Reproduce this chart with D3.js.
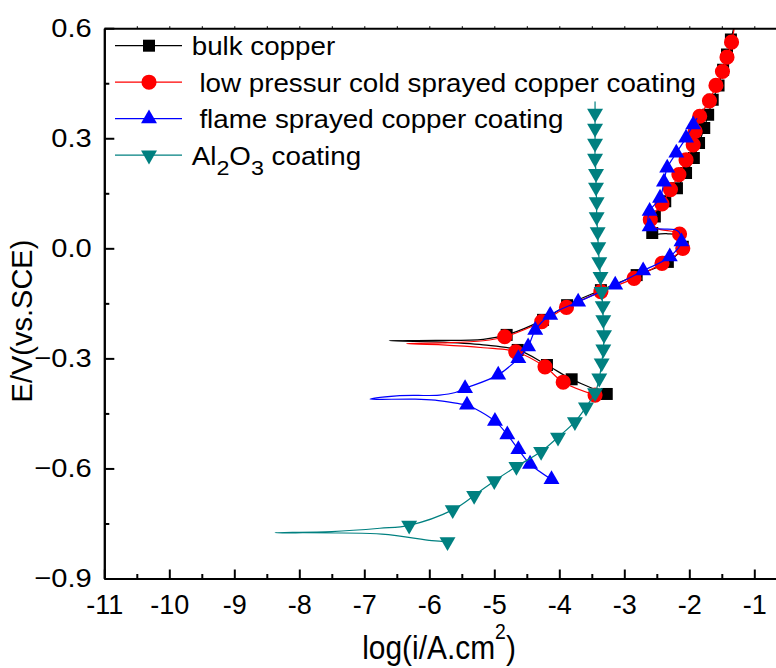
<!DOCTYPE html>
<html>
<head>
<meta charset="utf-8">
<script src="https://cdn.jsdelivr.net/npm/d3@7"></script>
<style>
  body { margin: 0; background: #fff; }
  svg { display: block; font-family: "Liberation Sans", Arial, sans-serif; }
</style>
</head>
<body>
<svg width="776" height="668"></svg>
<script>

// tick values
var xTicks = [-11, -10, -9, -8, -7, -6, -5, -4, -3, -2, -1];
var yTicks = [0.6, 0.3, 0.0, -0.3, -0.6, -0.9];

// bulk copper : [log i, E]
var bulkCurve = [[-3.27,-0.397],[-3.81,-0.357],[-4.19,-0.318],[-4.64,-0.277],[-5.17,-0.263],[-5.9,-0.255],
  [-6.62,-0.252],[-5.9,-0.251],[-5.17,-0.248],[-4.81,-0.236],[-4.25,-0.195],[-3.88,-0.155],[-3.36,-0.114],
  [-2.81,-0.073],[-2.33,-0.037],[-2.10,0.004],[-2.17,0.034],[-2.35,0.040],[-2.57,0.042],[-2.53,0.087],
  [-2.37,0.128],[-2.19,0.164],[-2.05,0.205],[-1.93,0.246],[-1.85,0.287],[-1.77,0.328],[-1.71,0.364],
  [-1.64,0.405],[-1.55,0.444],[-1.48,0.487],[-1.42,0.528],[-1.36,0.569],[-1.29,0.62]];
var bulkMarks = [[-3.27,-0.397],[-3.81,-0.357],[-4.19,-0.318],[-4.64,-0.277],[-4.81,-0.236],[-4.25,-0.195],
  [-3.88,-0.155],[-3.36,-0.114],[-2.81,-0.073],[-2.33,-0.037],[-2.10,0.004],[-2.57,0.042],[-2.53,0.087],
  [-2.37,0.128],[-2.19,0.164],[-2.05,0.205],[-1.93,0.246],[-1.85,0.287],[-1.77,0.328],[-1.71,0.364],
  [-1.64,0.405],[-1.55,0.444],[-1.48,0.487],[-1.42,0.528],[-1.36,0.569]];

// low pressure cold sprayed
var coldCurve = [[-3.45,-0.400],[-3.94,-0.365],[-4.22,-0.323],[-4.67,-0.282],[-5.17,-0.271],[-5.8,-0.263],
  [-6.35,-0.260],[-5.8,-0.258],[-5.17,-0.252],[-4.84,-0.241],[-4.27,-0.200],[-3.89,-0.161],[-3.36,-0.118],
  [-2.85,-0.082],[-2.42,-0.041],[-2.10,0.000],[-2.15,0.039],[-2.50,0.055],[-2.60,0.078],[-2.42,0.121],
  [-2.29,0.160],[-2.16,0.201],[-2.05,0.241],[-1.94,0.282],[-1.91,0.319],[-1.84,0.360],[-1.69,0.402],
  [-1.59,0.444],[-1.49,0.482],[-1.42,0.521],[-1.35,0.562],[-1.29,0.62]];
var coldMarks = [[-3.45,-0.400],[-3.94,-0.365],[-4.22,-0.323],[-4.67,-0.282],[-4.84,-0.241],[-4.27,-0.200],
  [-3.89,-0.161],[-3.36,-0.118],[-2.85,-0.082],[-2.42,-0.041],[-2.10,0.000],[-2.15,0.039],[-2.60,0.078],
  [-2.42,0.121],[-2.29,0.160],[-2.16,0.201],[-2.05,0.241],[-1.94,0.282],[-1.91,0.319],[-1.84,0.360],
  [-1.69,0.402],[-1.59,0.444],[-1.49,0.482],[-1.42,0.521],[-1.35,0.562]];

// flame sprayed
var flameCurve = [[-4.12,-0.630],[-4.45,-0.588],[-4.63,-0.548],[-4.80,-0.508],[-4.99,-0.471],[-5.42,-0.427],
  [-5.53,-0.424],[-5.91,-0.414],[-6.22,-0.411],[-6.91,-0.411],[-6.50,-0.402],[-5.84,-0.400],[-5.60,-0.393],
  [-5.45,-0.382],[-4.94,-0.345],[-4.63,-0.300],[-4.48,-0.268],[-4.37,-0.223],[-4.14,-0.182],[-3.71,-0.146],
  [-3.14,-0.100],[-2.71,-0.061],[-2.30,-0.023],[-2.12,0.018],[-2.16,0.045],[-2.22,0.051],[-2.61,0.059],
  [-2.61,0.101],[-2.45,0.137],[-2.39,0.181],[-2.34,0.219],[-2.20,0.260],[-2.05,0.301],[-1.94,0.337],[-1.88,0.355]];
var flameMarks = [[-4.12,-0.630],[-4.45,-0.588],[-4.63,-0.548],[-4.80,-0.508],[-4.99,-0.471],[-5.42,-0.427],
  [-5.45,-0.382],[-4.94,-0.345],[-4.63,-0.300],[-4.48,-0.268],[-4.37,-0.223],[-4.14,-0.182],[-3.71,-0.146],
  [-3.14,-0.100],[-2.71,-0.061],[-2.30,-0.023],[-2.12,0.018],[-2.61,0.059],[-2.61,0.101],[-2.45,0.137],
  [-2.39,0.181],[-2.34,0.219],[-2.20,0.260],[-2.05,0.301],[-1.94,0.337]];

// Al2O3
var aluCurve = [[-5.72,-0.800],[-5.96,-0.797],[-6.73,-0.779],[-8.37,-0.775],[-7.50,-0.772],[-6.76,-0.763],
  [-6.31,-0.755],[-5.64,-0.713],[-5.31,-0.674],[-5.00,-0.634],[-4.66,-0.595],[-4.28,-0.554],[-4.02,-0.515],
  [-3.76,-0.473],[-3.59,-0.433],[-3.45,-0.394],[-3.385,-0.354],[-3.348,-0.313],[-3.323,-0.275],[-3.312,-0.236],
  [-3.323,-0.195],[-3.332,-0.157],[-3.348,-0.118],[-3.366,-0.077],[-3.385,-0.037],[-3.40,0.004],[-3.41,0.045],
  [-3.425,0.086],[-3.425,0.127],[-3.435,0.166],[-3.435,0.204],[-3.45,0.245],[-3.45,0.286],[-3.45,0.327],
  [-3.45,0.368],[-3.45,0.400]];
var aluMarks = [[-5.72,-0.800],[-6.31,-0.755],[-5.64,-0.713],[-5.31,-0.674],[-5.00,-0.634],[-4.66,-0.595],
  [-4.28,-0.554],[-4.02,-0.515],[-3.76,-0.473],[-3.59,-0.433],[-3.45,-0.394],[-3.385,-0.354],[-3.348,-0.313],
  [-3.323,-0.275],[-3.312,-0.236],[-3.323,-0.195],[-3.332,-0.157],[-3.348,-0.118],[-3.366,-0.077],
  [-3.385,-0.037],[-3.40,0.004],[-3.41,0.045],[-3.425,0.086],[-3.425,0.127],[-3.435,0.166],[-3.435,0.204],
  [-3.45,0.245],[-3.45,0.286],[-3.45,0.327],[-3.45,0.368]];

var series = [
  {name: "bulk copper", curve: bulkCurve, marks: bulkMarks, color: "#000000", symbol: d3.symbolSquare, size: 144, rot: 0},
  {name: " low pressur cold sprayed copper coating", curve: coldCurve, marks: coldMarks, color: "#ff0000", symbol: d3.symbolCircle, size: 180, rot: 0},
  {name: " flame sprayed copper coating", curve: flameCurve, marks: flameMarks, color: "#0000ff", symbol: d3.symbolTriangle, size: 110, rot: 0},
  {name: "Al2O3 coating", curve: aluCurve, marks: aluMarks, color: "#008080", symbol: d3.symbolTriangle, size: 110, rot: 180}
];

var svg = d3.select("svg");

var x = d3.scaleLinear().domain([-11, 0]).range([104.3, 819.3]);
var y = d3.scaleLinear().domain([-0.9, 0.6]).range([578.5, 28.2]);

svg.append("clipPath").attr("id", "plot")
  .append("rect").attr("x", 104.3).attr("y", 28.2).attr("width", 720).attr("height", 550.3);

// curves and markers
var line = d3.line()
  .x(function(d) { return x(d[0]); })
  .y(function(d) { return y(d[1]); })
  .curve(d3.curveCatmullRom.alpha(0.5));

var plot = svg.append("g").attr("clip-path", "url(#plot)");

series.forEach(function(s) {
  plot.append("path")
    .attr("d", line(s.curve))
    .attr("fill", "none")
    .attr("stroke", s.color)
    .attr("stroke-width", 1.2);

  plot.append("g").selectAll("path")
    .data(s.marks)
    .enter().append("path")
    .attr("d", d3.symbol().type(s.symbol).size(s.size))
    .attr("transform", function(d) { return "translate(" + x(d[0]) + "," + y(d[1]) + ") rotate(" + s.rot + ")"; })
    .attr("fill", s.color);
});

// axes
function styleAxis(g) {
  g.select(".domain").attr("stroke-width", 2);
  g.selectAll(".tick line").attr("stroke-width", 2);
  g.selectAll("text").attr("fill", "#000");
}

var xAxis = svg.append("g")
  .attr("transform", "translate(0," + y(-0.9) + ")")
  .call(d3.axisBottom(x).tickValues(xTicks).tickSize(-9).tickSizeOuter(0).tickPadding(16)
    .tickFormat(d3.format("d")))
  .call(styleAxis);
xAxis.selectAll("text").attr("font-size", 27).attr("font-family", "Liberation Sans, Arial, sans-serif")
  .text(function(d) { return String(d); });

svg.append("g")
  .attr("transform", "translate(0," + y(-0.9) + ")")
  .call(d3.axisBottom(x).tickValues(d3.range(-10.5, 0, 1)).tickSize(-4.5).tickSizeOuter(0).tickFormat(""))
  .call(styleAxis);

svg.append("g")
  .attr("transform", "translate(0," + y(0.6) + ")")
  .call(d3.axisTop(x).tickValues(d3.range(-10.5, 0, 0.5)).tickSize(2).tickSizeOuter(0).tickFormat(""))
  .call(styleAxis)
  .selectAll(".tick line").attr("stroke-width", 1);

var yAxis = svg.append("g")
  .attr("transform", "translate(" + x(-11) + ",0)")
  .call(d3.axisLeft(y).tickValues(yTicks).tickSize(-10).tickSizeOuter(0).tickFormat(d3.format(".1f")))
  .call(styleAxis);
yAxis.selectAll("text")
  .attr("font-size", 26)
  .attr("font-family", "Liberation Sans, Arial, sans-serif")
  .attr("x", null)
  .attr("transform", "translate(-12.5,0) scale(1.12,1)");

svg.append("g")
  .attr("transform", "translate(" + x(-11) + ",0)")
  .call(d3.axisLeft(y).tickValues([0.45, 0.15, -0.15, -0.45, -0.75]).tickSize(-5).tickSizeOuter(0).tickFormat(""))
  .call(styleAxis);

// axis titles
var xTitle = svg.append("text")
  .attr("transform", "translate(439,659) scale(0.88,1)")
  .attr("text-anchor", "middle")
  .attr("font-size", 34);
xTitle.append("tspan").text("log(i/A.cm");
xTitle.append("tspan").attr("font-size", 22).attr("dy", -20).text("2");
xTitle.append("tspan").attr("dy", 20).text(")");

svg.append("text")
  .attr("transform", "translate(32,321) rotate(-90)")
  .attr("text-anchor", "middle")
  .attr("font-size", 29)
  .text("E/V(vs.SCE)");

// legend
var legend = svg.append("g").selectAll("g")
  .data(series)
  .enter().append("g")
  .attr("transform", function(d, i) { return "translate(0," + (45.7 + i * 36.5) + ")"; });

legend.append("line")
  .attr("x1", 115).attr("x2", 182)
  .attr("stroke", function(d) { return d.color; })
  .attr("stroke-width", 1.2);

legend.append("path")
  .attr("d", function(d) { return d3.symbol().type(d.symbol).size(d.size)(); })
  .attr("transform", function(d) { return "translate(149,0) rotate(" + d.rot + ")"; })
  .attr("fill", function(d) { return d.color; });

legend.each(function(d, i) {
  var t = d3.select(this).append("text")
    .attr("transform", "translate(191.7,9.3) scale(1.11,1)")
    .attr("font-size", 25)
    .style("white-space", "pre");
  if (i === 3) {
    t.append("tspan").text("Al");
    t.append("tspan").attr("font-size", 21).attr("dy", 10).text("2");
    t.append("tspan").attr("dy", -10).text("O");
    t.append("tspan").attr("font-size", 21).attr("dy", 10).text("3");
    t.append("tspan").attr("dy", -10).text(" coating");
  } else {
    t.text(d.name);
  }
});

</script>
</body>
</html>
